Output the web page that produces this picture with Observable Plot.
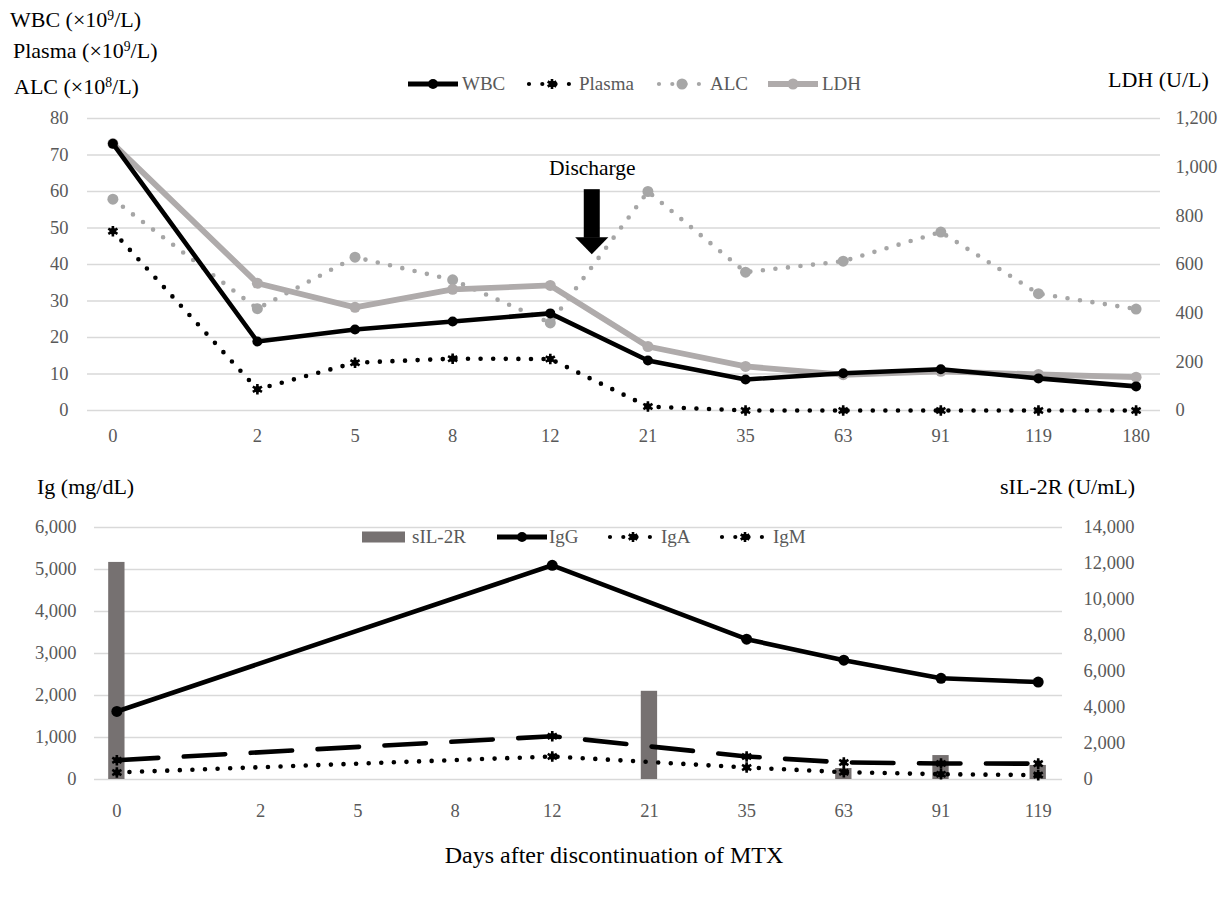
<!DOCTYPE html>
<html><head><meta charset="utf-8">
<script src="https://cdn.jsdelivr.net/npm/d3@7"></script>
<script src="https://cdn.jsdelivr.net/npm/@observablehq/plot@0.6"></script>
<style>
body{margin:0;background:#fff;}
#wrap{position:relative;width:1229px;height:899px;overflow:hidden;background:#fff;}
#top,#bot{position:absolute;left:0;}
#top{top:0;} #bot{top:450px;}
#overlay{position:absolute;left:0;top:0;pointer-events:none;}
</style></head>
<body><div id="wrap"><div id="top"></div><div id="bot"></div><svg id="overlay" width="1229" height="899"></svg></div>
<script>
// ---------- data ----------
const days   = ["0","2","5","8","12","21","35","63","91","119","180"];
const wbc    = [73.1, 18.9, 22.2, 24.4, 26.6, 13.7, 8.5, 10.2, 11.3, 8.8, 6.6];
const plasma = [49.1, 5.8, 13.1, 14.2, 14.1, 1.1, 0, 0, 0, 0, 0];
const alc    = [57.9, 27.9, 42.0, 35.8, 24.0, 60.0, 37.9, 40.9, 48.9, 32.0, 27.8];
const ldh    = [1097, 523, 424, 498, 514, 263, 181, 147, 161, 148, 137];

const igDays = ["0","2","5","8","12","21","35","63","91","119"];
const sil2r  = [12060, null, null, null, null, 4900, null, 610, 1330, 780];
const igg    = [1620, null, null, null, 5100, null, 3340, 2840, 2410, 2320];
const iga    = [460, null, null, null, 1030, null, 548, 405, 381, 378];
const igm    = [167, null, null, null, 548, null, 286, 175, 125, 105];

const topLeftTicks  = [0,10,20,30,40,50,60,70,80];
const ldhTicks      = [0,200,400,600,800,1000,1200];
const igTicks       = [0,1000,2000,3000,4000,5000,6000];
const silTicks      = [0,2000,4000,6000,8000,10000,12000,14000];

// ---------- layout helpers ----------
const FONT = "Liberation Serif, Times New Roman, serif";
const GREY_TXT = "#595959";
const GRID = "#d9d9d9";
// category slot: the first category sits a bit further left than the even spacing
const slot = i => i === 0 ? -0.48 : i;
const ldhK = 80 / 1200;      // LDH on secondary axis
const silK = 6000 / 14000;   // sIL-2R on secondary axis
const fmt = d3.format(",");

// ---------- top chart ----------
const rowsTop = days.map((d, i) => ({x: slot(i), day: d, wbc: wbc[i], plasma: plasma[i], alc: alc[i], ldh: ldh[i] * ldhK}));
const labTop = new Map(rowsTop.map(r => [r.x, r.day]));
const dischargeX = 4.43; // between day 12 and day 21
const headHalf = 0.17, shaftHalf = 0.082;

const topPlot = Plot.plot({
  width: 1229, height: 450,
  marginLeft: 87, marginRight: 69, marginTop: 118, marginBottom: 40,
  style: {fontFamily: FONT, fontSize: "18.5px", background: "transparent"},
  x: {type: "linear", domain: [-0.74, 10.25]},
  y: {domain: [0, 80]},
  marks: [
    Plot.gridY(topLeftTicks, {stroke: GRID, strokeOpacity: 1, strokeWidth: 1.4}),
    Plot.axisY(topLeftTicks, {anchor: "left", tickSize: 0, tickPadding: 19, color: GREY_TXT, fontSize: 18.5, label: null}),
    Plot.axisY(ldhTicks.map(v => v * ldhK), {anchor: "right", tickSize: 0, tickPadding: 15, color: GREY_TXT, fontSize: 18.5, label: null, tickFormat: v => fmt(Math.round(v / ldhK))}),
    Plot.axisX(rowsTop.map(r => r.x), {anchor: "bottom", tickSize: 0, tickPadding: 18, color: GREY_TXT, fontSize: 18.5, label: null, tickFormat: v => labTop.get(v)}),
    // ALC dotted grey
    Plot.line(rowsTop, {x: "x", y: "alc", stroke: "#a6a6a6", strokeWidth: 4.6, strokeDasharray: "0,12.6", strokeLinecap: "round"}),
    Plot.dot(rowsTop, {x: "x", y: "alc", r: 5.5, fill: "#a6a6a6"}),
    // Plasma dotted black
    Plot.line(rowsTop, {x: "x", y: "plasma", stroke: "#000", strokeWidth: 4.6, strokeDasharray: "0,12.6", strokeLinecap: "round"}),
    Plot.dot(rowsTop, {x: "x", y: "plasma", r: 3.3, fill: "#000"}),
    Plot.dot(rowsTop, {x: "x", y: "plasma", r: 5, symbol: "asterisk", stroke: "#000", strokeWidth: 2.6}),
    // LDH solid grey (secondary axis)
    Plot.line(rowsTop, {x: "x", y: "ldh", stroke: "#afabab", strokeWidth: 5.8}),
    Plot.dot(rowsTop, {x: "x", y: "ldh", r: 5.5, fill: "#afabab"}),
    // WBC solid black
    Plot.line(rowsTop, {x: "x", y: "wbc", stroke: "#000", strokeWidth: 4.6}),
    Plot.dot(rowsTop, {x: "x", y: "wbc", r: 5, fill: "#000"}),
    // Discharge arrow
    Plot.rect([{x: dischargeX}], {x1: d => d.x - shaftHalf, x2: d => d.x + shaftHalf, y1: 47.2, y2: 60.5, fill: "#000"}),
    Plot.areaY([{x: dischargeX - headHalf, t: 47.3}, {x: dischargeX, t: 42.7}, {x: dischargeX + headHalf, t: 47.3}],
      {x: "x", y1: 47.3, y2: "t", fill: "#000"}),
    Plot.text([{x: dischargeX}], {x: "x", y: 66.3, text: () => "Discharge", fill: "#000", fontSize: 21.5, fontFamily: FONT})
  ]
});
document.getElementById("top").append(topPlot);

// ---------- bottom chart ----------
const rowsBot = igDays.map((d, i) => ({x: slot(i), day: d, sil: sil2r[i] == null ? null : sil2r[i] * silK, igg: igg[i], iga: iga[i], igm: igm[i]}));
const labBot = new Map(rowsBot.map(r => [r.x, r.day]));
const barHalf = 0.084;
const has = k => rowsBot.filter(r => r[k] != null);

const botPlot = Plot.plot({
  width: 1229, height: 400,
  marginLeft: 94, marginRight: 167, marginTop: 77, marginBottom: 71,
  style: {fontFamily: FONT, fontSize: "18.5px", background: "transparent"},
  x: {type: "linear", domain: [-0.71, 9.25]},
  y: {domain: [0, 6000]},
  marks: [
    Plot.gridY(igTicks, {stroke: GRID, strokeOpacity: 1, strokeWidth: 1.4}),
    Plot.axisY(igTicks, {anchor: "left", tickSize: 0, tickPadding: 18, color: GREY_TXT, fontSize: 18.5, label: null, tickFormat: fmt}),
    Plot.axisY(silTicks.map(v => v * silK), {anchor: "right", tickSize: 0, tickPadding: 21, color: GREY_TXT, fontSize: 18.5, label: null, tickFormat: v => fmt(Math.round(v / silK))}),
    Plot.axisX(rowsBot.map(r => r.x), {anchor: "bottom", tickSize: 0, tickPadding: 24, color: GREY_TXT, fontSize: 18.5, label: null, tickFormat: v => labBot.get(v)}),
    Plot.rect(has("sil"), {x1: d => d.x - barHalf, x2: d => d.x + barHalf, y1: 0, y2: "sil", fill: "#767171"}),
    // IgM dotted
    Plot.line(has("igm"), {x: "x", y: "igm", stroke: "#000", strokeWidth: 4.6, strokeDasharray: "0,12.6", strokeLinecap: "round"}),
    Plot.dot(has("igm"), {x: "x", y: "igm", r: 3.3, fill: "#000"}),
    Plot.dot(has("igm"), {x: "x", y: "igm", r: 5, symbol: "asterisk", stroke: "#000", strokeWidth: 2.6}),
    // IgA long dash
    Plot.line(has("iga"), {x: "x", y: "iga", stroke: "#000", strokeWidth: 4.6, strokeDasharray: "41.5,25.5", strokeLinecap: "round"}),
    Plot.dot(has("iga"), {x: "x", y: "iga", r: 3.3, fill: "#000"}),
    Plot.dot(has("iga"), {x: "x", y: "iga", r: 5, symbol: "asterisk", stroke: "#000", strokeWidth: 2.6}),
    // IgG solid
    Plot.line(has("igg"), {x: "x", y: "igg", stroke: "#000", strokeWidth: 4.6}),
    Plot.dot(has("igg"), {x: "x", y: "igg", r: 5.5, fill: "#000"})
  ]
});
document.getElementById("bot").append(botPlot);

// ---------- overlay: titles & legends ----------
const ov = d3.select("#overlay").style("font-family", FONT);
function title(x, y, parts, size, anchor = "start", color = "#000") {
  const t = ov.append("text").attr("x", x).attr("y", y).attr("dy", "0.33em")
    .attr("font-size", size).attr("fill", color).attr("text-anchor", anchor);
  parts.forEach(p => {
    if (typeof p === "string") t.append("tspan").text(p);
    else t.append("tspan").attr("baseline-shift", "super").attr("font-size", "0.62em").text(p.sup);
  });
  return t;
}
title(10, 20, ["WBC (×10", {sup: "9"}, "/L)"], 22);
title(13, 51, ["Plasma (×10", {sup: "9"}, "/L)"], 22);
title(14, 87, ["ALC (×10", {sup: "8"}, "/L)"], 22);
title(1108, 80, ["LDH (U/L)"], 22);
title(37, 487, ["Ig (mg/dL)"], 22);
title(1000, 487, ["sIL-2R (U/mL)"], 22);
title(614, 855, ["Days after discontinuation of MTX"], 24, "middle");

// legend swatches
function swatchLine(x, y, w, color, width, marker) {
  ov.append("line").attr("x1", x).attr("x2", x + w).attr("y1", y).attr("y2", y)
    .attr("stroke", color).attr("stroke-width", width);
  ov.append("circle").attr("cx", x + w / 2).attr("cy", y).attr("r", marker).attr("fill", color);
}
function swatchDots(x, y, color, star) {
  ov.append("line").attr("x1", x + 2).attr("x2", x + 42).attr("y1", y).attr("y2", y)
    .attr("stroke", color).attr("stroke-width", 4.2).attr("stroke-linecap", "round").attr("stroke-dasharray", "0,13.3");
  if (star) {
    ov.append("circle").attr("cx", x + 25).attr("cy", y).attr("r", 3.3).attr("fill", color);
    ov.append("path").attr("transform", `translate(${x + 25},${y})`).attr("d", d3.symbol(d3.symbolAsterisk, 70)())
      .attr("stroke", color).attr("stroke-width", 2.6);
  } else {
    ov.append("circle").attr("cx", x + 25).attr("cy", y).attr("r", 5.5).attr("fill", color);
  }
}
function legText(x, y, s) { title(x, y, [s], 19, "start", GREY_TXT); }

const ly = 84;
swatchLine(408, ly, 50, "#000", 5, 5);       legText(462, ly, "WBC");
swatchDots(527, ly, "#000", true);          legText(579, ly, "Plasma");
swatchDots(657, ly, "#a6a6a6", false);      legText(710, ly, "ALC");
swatchLine(768, ly, 50, "#afabab", 6, 5.5); legText(822, ly, "LDH");

const by = 537;
ov.append("rect").attr("x", 362).attr("y", by - 5.5).attr("width", 43).attr("height", 11).attr("fill", "#767171");
legText(412, by, "sIL-2R");
swatchLine(497, by, 50, "#000", 5, 5);      legText(549, by, "IgG");
swatchDots(608, by, "#000", true);          legText(661, by, "IgA");
swatchDots(720, by, "#000", true);          legText(773, by, "IgM");
</script></body></html>
